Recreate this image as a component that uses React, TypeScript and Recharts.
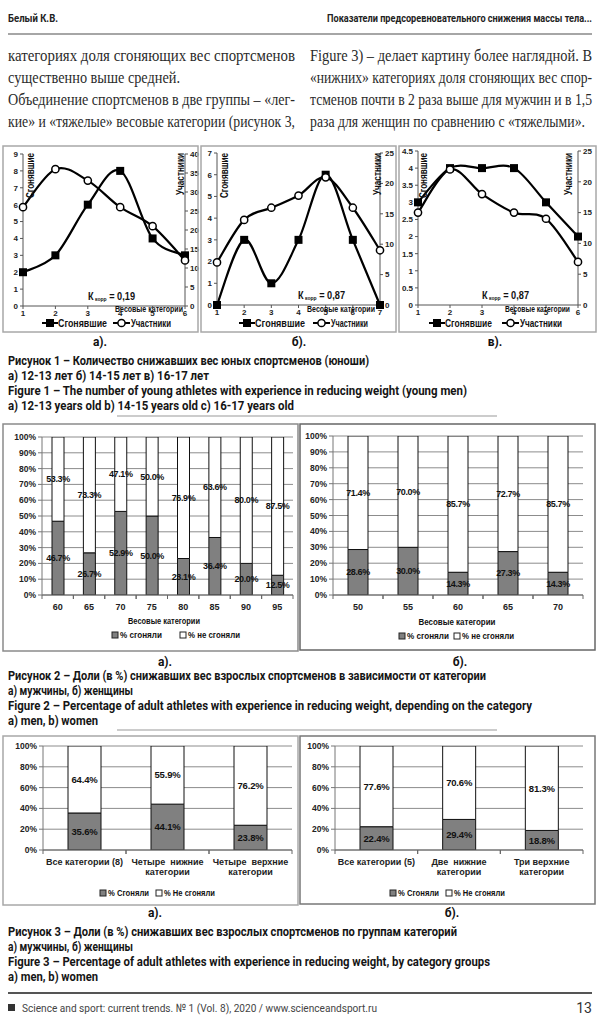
import React from 'react';
import { LineChart, Line, XAxis, YAxis, BarChart, Bar, CartesianGrid, LabelList } from 'recharts';

const SANS = "'Liberation Sans', Arial, sans-serif";
const CAPF = "Roboto, 'Noto Sans', sans-serif";
const SERIF = "'Liberation Serif', 'Times New Roman', serif";

// Рисунок 1: юноши, а) 12-13, б) 14-15, в) 16-17 лет
const catsA = [1, 2, 3, 4, 5, 6];
const cutA = [2, 3, 6, 8, 4, 3];
const partA = [26, 36, 33, 26, 21, 12];
const leftTicksA = [0, 1, 2, 3, 4, 5, 6, 7, 8, 9];
const rightTicksA = [0, 5, 10, 15, 20, 25, 30, 35, 40];

const catsB = [1, 2, 3, 4, 5, 6, 7];
const cutB = [0, 3, 1, 3, 6, 3, 0];
const partB = [7, 14, 16, 18, 21, 16, 9];
const leftTicksB = [0, 1, 2, 3, 4, 5, 6, 7];
const rightTicksB = [0, 5, 10, 15, 20, 25];

const catsC = [1, 2, 3, 4, 5, 6];
const cutC = [3, 4, 4, 4, 3, 2];
const partC = [15, 22, 18, 15, 14, 7];
const leftTicksC = [0, 0.5, 1, 1.5, 2, 2.5, 3, 3.5, 4, 4.5];
const rightTicksC = [0, 5, 10, 15, 20, 25];

// Рисунок 2: доли по категориям
const menCats = ['60', '65', '70', '75', '80', '85', '90', '95'];
const menYes = [46.7, 26.7, 52.9, 50.0, 23.1, 36.4, 20.0, 12.5];
const menNo = [53.3, 73.3, 47.1, 50.0, 76.9, 63.6, 80.0, 87.5];
const womenCats = ['50', '55', '60', '65', '70'];
const womenYes = [28.6, 30.0, 14.3, 27.3, 14.3];
const womenNo = [71.4, 70.0, 85.7, 72.7, 85.7];
const pctTicks10 = [0, 10, 20, 30, 40, 50, 60, 70, 80, 90, 100];

// Рисунок 3: доли по группам категорий
const menGroups = ['Все категории (8)', 'Четыре  нижние\nкатегории', 'Четыре  верхние\nкатегории'];
const menGroupYes = [35.6, 44.1, 23.8];
const menGroupNo = [64.4, 55.9, 76.2];
const womenGroups = ['Все категории (5)', 'Две  нижние\nкатегории', 'Три верхние\nкатегории'];
const womenGroupYes = [22.4, 29.4, 18.8];
const womenGroupNo = [77.6, 70.6, 81.3];
const pctTicks20 = [0, 20, 40, 60, 80, 100];

// excel-like smoothing (catmull-rom)
const smooth = (context: any) => {
  let pts: number[][] = [];
  return {
    areaStart() {},
    areaEnd() {},
    lineStart() { pts = []; },
    point(x: number, y: number) { pts.push([+x, +y]); },
    lineEnd() {
      const n = pts.length;
      if (!n) return;
      context.moveTo(pts[0][0], pts[0][1]);
      for (let i = 0; i < n - 1; i++) {
        const p0 = pts[Math.max(i - 1, 0)];
        const p1 = pts[i];
        const p2 = pts[i + 1];
        const p3 = pts[Math.min(i + 2, n - 1)];
        context.bezierCurveTo(
          p1[0] + (p2[0] - p0[0]) / 6, p1[1] + (p2[1] - p0[1]) / 6,
          p2[0] - (p3[0] - p1[0]) / 6, p2[1] - (p3[1] - p1[1]) / 6,
          p2[0], p2[1]);
      }
    },
  };
};

const axisTick = { fontSize: 8, fontWeight: 700, fill: '#222', fontFamily: SANS };

const LineFig = ({ cats, cut, part, leftTicks, rightTicks, width, height, top, leftW, rightW }: any) => {
  const data = cats.map((c: number, i: number) => ({ x: c, cut: cut[i], part: part[i] }));
  return (
    <LineChart width={width} height={height} data={data} margin={{ top, right: 0, left: 0, bottom: 0 }}>
      <XAxis dataKey="x" type="number" domain={[cats[0], cats[cats.length - 1]]} ticks={cats} interval={0}
        height={14} tickSize={3} tickMargin={1} stroke="#555" tick={axisTick} />
      <YAxis yAxisId="l" domain={[0, leftTicks[leftTicks.length - 1]]} ticks={leftTicks} interval={0}
        width={leftW} tickSize={3} tickMargin={2} stroke="#555" tick={axisTick} />
      <YAxis yAxisId="r" orientation="right" domain={[0, rightTicks[rightTicks.length - 1]]} ticks={rightTicks}
        interval={0} width={rightW} tickSize={3} tickMargin={2} stroke="#555" tick={axisTick} />
      <Line yAxisId="l" dataKey="cut" type={smooth as any} stroke="#000" strokeWidth={2.2} isAnimationActive={false}
        dot={(p: any) => <rect key={`s${p.index}`} x={p.cx - 4} y={p.cy - 4} width={8} height={8} fill="#000" />} />
      <Line yAxisId="r" dataKey="part" type={smooth as any} stroke="#000" strokeWidth={2.2} isAnimationActive={false}
        dot={{ r: 3.6, fill: '#fff', stroke: '#000', strokeWidth: 1.5 }} />
    </LineChart>
  );
};

// category label + excel style tick marks between categories
const CatTick = ({ x, y, payload, fs, band, axisY }: any) => {
  const lines = String(payload.value).split('\n');
  return (
    <g>
      <line x1={x - band / 2} x2={x - band / 2} y1={axisY} y2={axisY + 4} stroke="#666" />
      <line x1={x + band / 2} x2={x + band / 2} y1={axisY} y2={axisY + 4} stroke="#666" />
      <text x={x} y={y} textAnchor="middle" fontFamily={SANS} fontWeight={700} fontSize={fs} fill="#222"
        style={{ whiteSpace: 'pre' }}>
        {lines.map((l, i) => (
          <tspan key={i} x={x} dy={i === 0 ? fs * 0.85 : fs * 1.2}>{l}</tspan>
        ))}
      </text>
    </g>
  );
};

const pct = (v: any) => Number(v).toFixed(1) + '%';

const BarFig = ({ cats, yes, no, ticks, width, height, top, yW, right, xH, barSize, tickFs, labelFs, ls }: any) => {
  const data = cats.map((c: string, i: number) => ({ cat: c, yes: yes[i], no: no[i] }));
  const lbl = { fill: '#111', fontSize: labelFs, fontWeight: 700, fontFamily: SANS, letterSpacing: ls };
  const band = (width - yW - right) / cats.length;
  const axisY = height - xH;
  return (
    <BarChart width={width} height={height} data={data} margin={{ top, right, left: 0, bottom: 0 }}>
      <CartesianGrid vertical={false} stroke="#8c8c8c" strokeWidth={1} />
      <XAxis dataKey="cat" interval={0} height={xH} tickLine={false} tickSize={5} stroke="#666"
        tick={(p: any) => <CatTick {...p} fs={tickFs} band={band} axisY={axisY} />} />
      <YAxis domain={[0, 100]} allowDataOverflow ticks={ticks} interval={0} width={yW} tickSize={4} tickMargin={2}
        stroke="#777" tickFormatter={(v: number) => v + '%'}
        tick={{ fontSize: tickFs - 0.5, fontWeight: 700, fill: '#222', fontFamily: SANS }} />
      <Bar dataKey="yes" stackId="s" fill="#808080" stroke="#111" strokeWidth={1} barSize={barSize} isAnimationActive={false}>
        <LabelList dataKey="yes" position="center" formatter={pct} {...lbl} />
      </Bar>
      <Bar dataKey="no" stackId="s" fill="#fff" stroke="#111" strokeWidth={1} barSize={barSize} isAnimationActive={false}>
        <LabelList dataKey="no" position="center" formatter={pct} {...lbl} />
      </Bar>
    </BarChart>
  );
};

const T = ({ x, y, w, s = 10, a = 'start', wt = 700, f = SANS, c = '#111', children }: any) => (
  <text x={x} y={y} fontSize={s} fontFamily={f} fontWeight={wt} fill={c} textAnchor={a} dominantBaseline="central"
    {...(w ? { textLength: w, lengthAdjust: 'spacingAndGlyphs' } : {})}>{children}</text>
);

const Kcorr = ({ x, y, v }: any) => (
  <text x={x} y={y} fontSize={11} fontFamily={SANS} fontWeight={700} fill="#111" dominantBaseline="central"
    textLength={47} lengthAdjust="spacingAndGlyphs">
    К<tspan fontSize={6} dy={3}> корр</tspan><tspan dy={-3}> = {v}</tspan>
  </text>
);

const VTitle = ({ x, y, w, children }: any) => (
  <text x={x} y={y} fontSize={10} fontFamily={SANS} fontWeight={700} fill="#111" textAnchor="end"
    dominantBaseline="central" transform={`rotate(-90 ${x} ${y})`} textLength={w} lengthAdjust="spacingAndGlyphs">
    {children}
  </text>
);

const LineLegend = ({ x1, t1, w1, x2, t2, w2, y }: any) => (
  <g>
    <line x1={x1} x2={x1 + 16} y1={y} y2={y} stroke="#000" strokeWidth={2} />
    <rect x={x1 + 4} y={y - 4} width={8} height={8} fill="#000" />
    <T x={x1 + 16} y={y} w={w1} s={10.5}>{t1}</T>
    <line x1={x2} x2={x2 + 17} y1={y} y2={y} stroke="#000" strokeWidth={2} />
    <circle cx={x2 + 8.5} cy={y} r={3.6} fill="#fff" stroke="#000" strokeWidth={1.5} />
    <T x={x2 + 18} y={y} w={w2} s={10.5}>{t2}</T>
  </g>
);

const BarLegend = ({ x1, t1, w1, x2, t2, w2, y, s }: any) => (
  <g>
    <rect x={x1} y={y - 3} width={6} height={6} fill="#808080" stroke="#222" strokeWidth={1} />
    <T x={x1 + 8} y={y} w={w1} s={s}>{t1}</T>
    <rect x={x2} y={y - 3} width={6} height={6} fill="#fff" stroke="#222" strokeWidth={1} />
    <T x={x2 + 8} y={y} w={w2} s={s}>{t2}</T>
  </g>
);

const Caption = ({ y, lines }: any) => (
  <g>
    {lines.map((l: any, i: number) => (
      <T key={i} x={8} y={y + i * 15} w={l[1]} s={12.5} f={CAPF} c="#151515">{l[0]}</T>
    ))}
  </g>
);

// текст статьи над рисунками: [строка, ширина строки]
const bodyLeft = [
  ['категориях доля сгоняющих вес спортсменов', 287],
  ['существенно выше средней.', 172],
  ['Объединение спортсменов в две группы – «лег-', 287],
  ['кие» и «тяжелые» весовые категории (рисунок 3,', 287],
];
const bodyRight = [
  ['Figure 3) – делает картину более наглядной. В', 282],
  ['«нижних» категориях доля сгоняющих вес спор-', 282],
  ['тсменов почти в 2 раза выше для мужчин и в 1,5', 282],
  ['раза для женщин по сравнению с «тяжелыми».', 275],
];

const BodyCol = ({ x, lines }: any) => (
  <g>
    {lines.map((l: any, i: number) => (
      <T key={i} x={x} y={55 + i * 22} w={l[1]} s={16} wt={400} f={SERIF} c="#2a2a2a">{l[0]}</T>
    ))}
  </g>
);

const abs = (left: number, top: number): React.CSSProperties => ({ position: 'absolute', left, top });

export default function App() {
  return (
    <div style={{ position: 'absolute', left: 0, top: 0, width: 600, height: 1024, background: '#fff', overflow: 'hidden' }}>
      <div style={abs(3, 147)}>
        <LineFig cats={catsA} cut={cutA} part={partA} leftTicks={leftTicksA} rightTicks={rightTicksA}
          width={197} height={173} top={7} leftW={20} rightW={15} />
      </div>
      <div style={abs(201, 147)}>
        <LineFig cats={catsB} cut={cutB} part={partB} leftTicks={leftTicksB} rightTicks={rightTicksB}
          width={195} height={172} top={6} leftW={16} rightW={16} />
      </div>
      <div style={abs(399, 147)}>
        <LineFig cats={catsC} cut={cutC} part={partC} leftTicks={leftTicksC} rightTicks={rightTicksC}
          width={198} height={172} top={4} leftW={19} rightW={19} />
      </div>

      <div style={abs(4, 430)}>
        <BarFig cats={menCats} yes={menYes} no={menNo} ticks={pctTicks10} width={292} height={181} top={7}
          yW={38} right={3} xH={16} barSize={12} tickFs={9} labelFs={9} ls={-0.4} />
      </div>
      <div style={abs(301, 430)}>
        <BarFig cats={womenCats} yes={womenYes} no={womenNo} ticks={pctTicks10} width={294} height={181} top={6}
          yW={32} right={12} xH={16} barSize={20} tickFs={9} labelFs={9} ls={-0.4} />
      </div>

      <div style={abs(4, 740)}>
        <BarFig cats={menGroups} yes={menGroupYes} no={menGroupNo} ticks={pctTicks20} width={293} height={138} top={6}
          yW={39} right={5} xH={28} barSize={33} tickFs={9} labelFs={9.5} ls={-0.2} />
      </div>
      <div style={abs(301, 740)}>
        <BarFig cats={womenGroups} yes={womenGroupYes} no={womenGroupNo} ticks={pctTicks20} width={294} height={138}
          top={6} yW={34} right={12} xH={28} barSize={33} tickFs={9} labelFs={9.5} ls={-0.2} />
      </div>

      <svg width={600} height={1024} style={{ position: 'absolute', left: 0, top: 0, pointerEvents: 'none' }}>
        {/* header */}
        <T x={8} y={18} w={50} s={11.5} f={CAPF} c="#222">Белый К.В.</T>
        <T x={327} y={18} w={265} s={11.5} f={CAPF} c="#222">Показатели предсоревновательного снижения массы тела...</T>
        <line x1={8} x2={592} y1={34} y2={34} stroke="#888" strokeWidth={1.5} />

        <BodyCol x={8} lines={bodyLeft} />
        <BodyCol x={310} lines={bodyRight} />

        {/* frames */}
        <g fill="none" stroke="#a8a8a8" strokeWidth={1.5}>
          <rect x={3} y={146} width={195} height={186} />
          <rect x={201} y={146} width={195} height={186} />
          <rect x={399} y={146} width={197} height={186} />
          <rect x={3} y={424} width={295} height={227} stroke="#8a8a8a" />
          <rect x={300} y={424} width={295} height={226} stroke="#666" />
          <rect x={3} y={736} width={295} height={169} />
          <rect x={300} y={736} width={295} height={168} stroke="#777" />
        </g>

        {/* figure 1 annotations */}
        <VTitle x={30} y={153} w={45}>Сгонявшие</VTitle>
        <VTitle x={180} y={153} w={42}>Участники</VTitle>
        <VTitle x={224} y={153} w={45}>Сгонявшие</VTitle>
        <VTitle x={377} y={153} w={42}>Участники</VTitle>
        <VTitle x={423} y={153} w={45}>Сгонявшие</VTitle>
        <VTitle x={568} y={153} w={42}>Участники</VTitle>
        <Kcorr x={88} y={296} v="0,19" />
        <Kcorr x={298} y={295} v="0,87" />
        <Kcorr x={482} y={295} v="0,87" />
        <T x={115} y={309} w={68} s={8.5}>Весовые категории</T>
        <T x={307} y={309} w={68} s={8.5}>Весовые категории</T>
        <T x={505} y={309} w={65} s={8.5}>Весовые категории</T>
        <LineLegend x1={42} t1="Сгонявшие" w1={49} x2={113} t2="Участники" w2={40} y={323} />
        <LineLegend x1={239} t1="Сгонявшие" w1={50} x2={313} t2="Участники" w2={37} y={323} />
        <LineLegend x1={429} t1="Сгонявшие" w1={47} x2={502} t2="Участники" w2={42} y={323} />
        <T x={100} y={342} s={12} a="middle" f={CAPF}>а).</T>
        <T x={299} y={342} s={12} a="middle" f={CAPF}>б).</T>
        <T x={495} y={342} s={12} a="middle" f={CAPF}>в).</T>
        <Caption y={360} lines={[
          ['Рисунок 1 – Количество снижавших вес юных спортсменов (юноши)', 361],
          ['а) 12-13 лет б) 14-15 лет в) 16-17 лет', 201],
          ['Figure 1 – The number of young athletes with experience in reducing weight (young men)', 459],
          ['a) 12-13 years old b) 14-15 years old c) 16-17 years old', 286],
        ]} />
        <line x1={117} x2={497} y1={416} y2={416} stroke="#999" strokeWidth={1.2} />

        {/* figure 2 annotations */}
        <T x={164} y={621} w={72} s={9} a="middle">Весовые категории</T>
        <T x={457} y={622} w={77} s={9} a="middle">Весовые категории</T>
        <BarLegend x1={112} t1="% сгоняли" w1={42} x2={180} t2="% не сгоняли" w2={52} y={635} s={9} />
        <BarLegend x1={399} t1="% сгоняли" w1={42} x2={454} t2="% не сгоняли" w2={52} y={636} s={9} />
        <T x={165} y={662} s={12} a="middle" f={CAPF}>а).</T>
        <T x={460} y={662} s={12} a="middle" f={CAPF}>б).</T>
        <Caption y={675} lines={[
          ['Рисунок 2 – Доли (в %) снижавших вес взрослых спортсменов в зависимости от категории', 478],
          ['а) мужчины, б) женщины', 125],
          ['Figure 2 – Percentage of adult athletes with experience in reducing weight, depending on the category', 524],
          ['a) men, b) women', 90],
        ]} />
        <line x1={117} x2={497} y1={730} y2={730} stroke="#999" strokeWidth={1.2} />

        {/* figure 3 annotations */}
        <BarLegend x1={100} t1="% Сгоняли" w1={41} x2={156} t2="% Не сгоняли" w2={51} y={893} s={9} />
        <BarLegend x1={390} t1="% Сгоняли" w1={41} x2={446} t2="% Не сгоняли" w2={51} y={893} s={9} />
        <T x={155} y={913} s={12} a="middle" f={CAPF}>а).</T>
        <T x={452} y={913} s={12} a="middle" f={CAPF}>б).</T>
        <Caption y={931} lines={[
          ['Рисунок 3 – Доли (в %) снижавших вес взрослых спортсменов по группам категорий', 449],
          ['а) мужчины, б) женщины', 125],
          ['Figure 3 – Percentage of adult athletes with experience in reducing weight, by category groups', 482],
          ['a) men, b) women', 90],
        ]} />

        {/* footer */}
        <line x1={8} x2={592} y1={993} y2={993} stroke="#555" strokeWidth={1.8} />
        <rect x={8} y={1004} width={7} height={7} fill="#333" />
        <T x={22} y={1008} w={355} s={11.5} wt={400} f={CAPF} c="#444">Science and sport: current trends. № 1 (Vol. 8), 2020  /  www.scienceandsport.ru</T>
        <T x={592} y={1008} s={14} wt={400} a="end" f={CAPF} c="#333">13</T>
      </svg>
    </div>
  );
}
